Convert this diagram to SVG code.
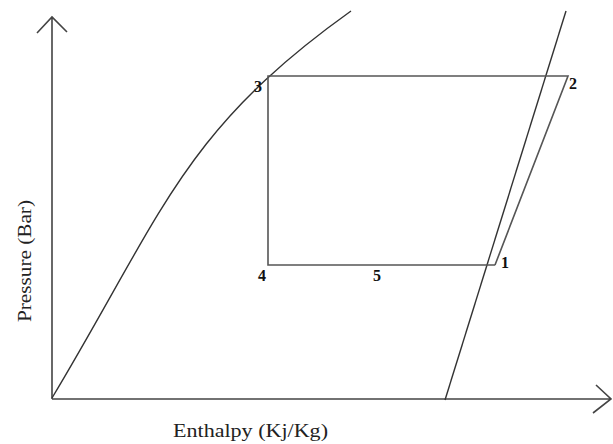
<svg xmlns="http://www.w3.org/2000/svg" width="613" height="444" viewBox="0 0 613 444">
<style>
.ax{fill:none;stroke:#444;stroke-width:1.6}
.cv{fill:none;stroke:#333;stroke-width:1.4}
.cy{fill:none;stroke:#555;stroke-width:1.6}
.num{font-family:"Liberation Serif",serif;font-weight:bold;font-size:16px;fill:#111;text-anchor:middle}
.lbl{font-family:"Liberation Serif",serif;font-size:18px;fill:#222}
</style>
<rect width="613" height="444" fill="#fff"/>
<g id="axes">
<path class="ax" d="M52,399 V17 M37,33 L52,17 L67,32"/>
<path class="ax" d="M52,399 H611 M596,385 L611,399 L593,413"/>
</g>
<g id="connectors">
<path id="sat-liquid" class="cv" d="M52,398 C163.6,212 182,131.7 351,11"/>
<path id="sat-vapour" class="cv" d="M445,400 Q506,206 566,11"/>
<path id="cycle" class="cy" d="M495,265 L568,76 H268 V265 H495"/>
</g>
<g id="labels">
<text class="num" x="258" y="92">3</text>
<text class="num" x="573" y="89">2</text>
<text class="num" x="505" y="268">1</text>
<text class="num" x="262" y="281">4</text>
<text class="num" x="377" y="281">5</text>
<text class="lbl" x="173" y="437" textLength="155" lengthAdjust="spacingAndGlyphs">Enthalpy (Kj/Kg)</text>
<text class="lbl" transform="translate(31,322) rotate(-90)" x="0" y="0" textLength="122" lengthAdjust="spacingAndGlyphs">Pressure (Bar)</text>
</g>
</svg>
